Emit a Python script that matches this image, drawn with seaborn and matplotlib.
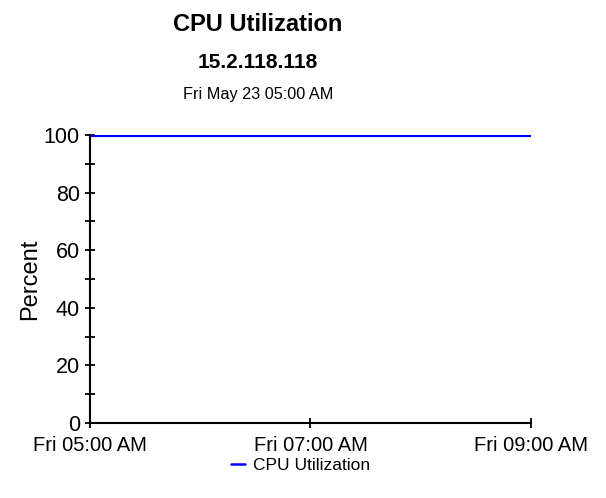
import pandas as pd
import seaborn as sns
import matplotlib.pyplot as plt
import matplotlib.dates as mdates
from matplotlib.lines import Line2D
from matplotlib.ticker import MultipleLocator

# CPU samples (hourly) for host 15.2.118.118
times = ['2003-05-23 05:00', '2003-05-23 06:00', '2003-05-23 07:00',
         '2003-05-23 08:00', '2003-05-23 09:00']
cpu_values = [100, 100, 100, 100, 100]
tick_times = ['2003-05-23 05:00', '2003-05-23 07:00', '2003-05-23 09:00']

df = pd.DataFrame({'time': pd.to_datetime(times), 'CPU Utilization': cpu_values})

sns.set_style('white')
plt.rcParams['font.family'] = ['Liberation Sans', 'DejaVu Sans']
plt.rcParams['text.color'] = 'black'
plt.rcParams['axes.labelcolor'] = 'black'
plt.rcParams['xtick.color'] = 'black'
plt.rcParams['ytick.color'] = 'black'

fig = plt.figure(figsize=(6.06, 4.98), dpi=100)
ax = fig.add_axes([0.1485, 0.1506, 0.7277, 0.5784])

sns.lineplot(data=df, x='time', y='CPU Utilization', color='#0000ff',
             linewidth=3, ax=ax, legend=False)

ax.set_ylim(0, 100)
ax.set_xlim(pd.Timestamp(tick_times[0]), pd.Timestamp(tick_times[-1]))
ax.yaxis.set_major_locator(MultipleLocator(20))
ax.yaxis.set_minor_locator(MultipleLocator(10))
ax.set_xticks(pd.to_datetime(tick_times))
ax.xaxis.set_major_formatter(mdates.DateFormatter('%a %I:%M %p'))

for s in ['top', 'right']:
    ax.spines[s].set_visible(False)
for s in ['left', 'bottom']:
    ax.spines[s].set_color('black')
    ax.spines[s].set_linewidth(1.5)

ax.tick_params(axis='both', which='both', direction='inout', length=6.5,
               width=1.3, left=True, bottom=True)
ax.tick_params(axis='y', labelsize=15.5, pad=4)
ax.tick_params(axis='x', labelsize=14.5, pad=6)
ax.set_xlabel('')
ax.set_ylabel('Percent', fontsize=17, labelpad=2)

fig.text(0.426, 0.951, 'CPU Utilization', ha='center', va='center',
         fontsize=17, fontweight='bold')
fig.text(0.425, 0.875, '15.2.118.118', ha='center', va='center',
         fontsize=15, fontweight='bold')
fig.text(0.426, 0.811, 'Fri May 23 05:00 AM', ha='center', va='center', fontsize=11.7)

handle = Line2D([], [], color='#0000ff', linewidth=1.8)
fig.legend([handle], ['CPU Utilization'], loc='center', bbox_to_anchor=(0.496, 0.066),
           frameon=False, fontsize=12.5, handlelength=0.8, handletextpad=0.5)

plt.savefig('out.png', dpi=100)
plt.close()
